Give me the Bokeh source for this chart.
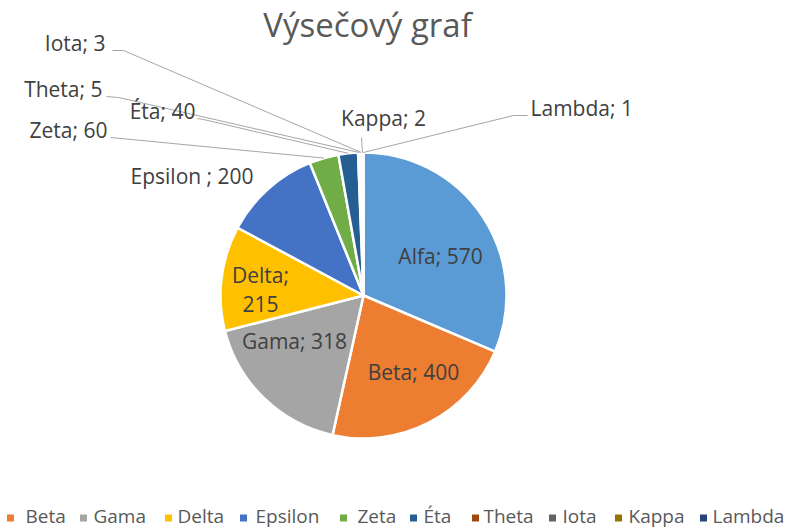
import math
from bokeh.plotting import figure
from bokeh.models import Range1d, ColumnDataSource
from bokeh.core.properties import value
from bokeh.embed import file_html
from bokeh.resources import INLINE

# ---- data ----
categories = ["Alfa", "Beta", "Gama", "Delta", "Epsilon", "Zeta", "Éta", "Theta", "Iota", "Kappa", "Lambda"]
values = [570, 400, 318, 215, 200, 60, 40, 5, 3, 2, 1]
colors = ["#5B9BD5", "#ED7D31", "#A5A5A5", "#FFC000", "#4472C4", "#70AD47",
          "#255E91", "#9E480E", "#636363", "#997300", "#264478"]
label_texts = ["Alfa; 570", "Beta; 400", "Gama; 318", "Delta;\n215", "Epsilon ; 200", "Zeta; 60",
               "Éta; 40", "Theta; 5", "Iota; 3", "Kappa; 2", "Lambda; 1"]
title_text = "Výsečový graf"

# ---- layout (screen pixel coordinates; data y = 528 - screen y) ----
W, H = 799, 528
def Y(py):
    return H - py

CX, CY, R = 363, 295, 143
FONT = value("Open Sans")

p = figure(width=W, height=H, x_range=Range1d(0, W), y_range=Range1d(0, H),
           output_backend="svg", toolbar_location=None, min_border=0)
p.axis.visible = False
p.grid.visible = False
p.outline_line_color = None
p.background_fill_color = "white"

total = sum(values)
starts, ends = [], []
cum = 0
for v in values:
    a0 = math.pi / 2 - 2 * math.pi * (cum + v) / total
    a1 = math.pi / 2 - 2 * math.pi * cum / total
    starts.append(a0)
    ends.append(a1)
    cum += v

src = ColumnDataSource(dict(x=[CX] * len(values), y=[Y(CY)] * len(values),
                            start=starts, end=ends, color=colors))
p.wedge(x="x", y="y", radius=R, start_angle="start", end_angle="end",
        fill_color="color", line_color="white", line_width=2.5, source=src)

def edge_point(i):
    mid = (starts[i] + ends[i]) / 2
    return CX + R * math.cos(mid), Y(CY) + R * math.sin(mid)

# leader lines for small slices: label-side points, then to slice edge
leaders = {
    5: [(110, 137)],
    6: [(197, 118), (203, 119)],
    7: [(106, 96), (118, 97)],
    8: [(112, 50), (123, 50)],
    9: [(361, 137)],
    10: [(527, 115), (513, 115)],
}
for i, pts in leaders.items():
    ex, ey = edge_point(i)
    xs = [pt[0] for pt in pts] + [ex]
    ys = [Y(pt[1]) for pt in pts] + [ey]
    p.line(xs, ys, line_color="#A6A6A6", line_width=1)

# data labels: (x, center y, align)
label_pos = [
    (440, 255.5, "center"),
    (413, 371.5, "center"),
    (294, 340.5, "center"),
    (260, 274.5, "center"),
    (130, 175.5, "left"),
    (107, 129.5, "right"),
    (195, 110.5, "right"),
    (102, 88.5, "right"),
    (105, 42.5, "right"),
    (383, 117.5, "center"),
    (530, 107.5, "left"),
]
LINE_STEP = 29
for i, (lx, ly, al) in enumerate(label_pos):
    for k, line in enumerate(label_texts[i].split("\n")):
        p.text(x=[lx], y=[Y(ly + k * LINE_STEP)], text=[line], text_font=FONT,
               text_font_size="21px", text_color="#404040", text_align=al,
               text_baseline="middle")

# title
p.text(x=[367], y=[Y(24)], text=[title_text], text_font=FONT, text_font_size="33px",
       text_color="#595959", text_align="center", text_baseline="middle")

# legend (Alfa is cut off at the left edge in the original)
legend_marker_x = [None, 10, 83, 168, 243, 343, 413, 475, 552, 618, 703]
legend_text_x = [None, 25, 93, 177, 255, 357, 423, 483, 562, 628, 712]
for i in range(1, len(categories)):
    p.rect(x=[legend_marker_x[i]], y=[Y(517.5)], width=7, height=7,
           fill_color=colors[i], line_color=None)
    p.text(x=[legend_text_x[i]], y=[Y(515)], text=[categories[i]], text_font=FONT,
           text_font_size="19px", text_color="#595959", text_align="left",
           text_baseline="middle")

open("out.html", "w").write(file_html(p, INLINE))
